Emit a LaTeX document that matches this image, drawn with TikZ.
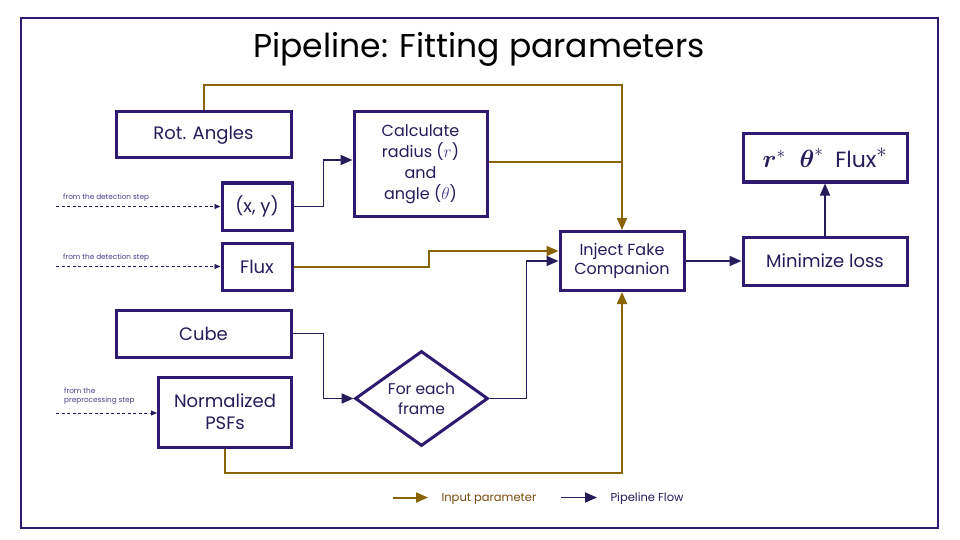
\documentclass[tikz,border=0pt]{standalone}
\usepackage{amsmath}
\usepackage{fontspec}
\setmainfont{Poppins}
\usetikzlibrary{arrows.meta, positioning, shapes.geometric}
\definecolor{framepurple}{HTML}{2E1A6E}
\definecolor{inputgold}{HTML}{8A6508}
\definecolor{flownavy}{HTML}{251C5A}
\definecolor{inputtext}{HTML}{7A4A0E}
\definecolor{notepurple}{HTML}{4A3C8C}

\tikzset{
  stepbox/.style={draw=framepurple, line width=3pt, fill=white, text=flownavy, align=center, inner sep=0pt},
  inarrow/.style={draw=inputgold, line width=2pt, -{Triangle[length=12pt,width=10pt]}},
  flowarrow/.style={draw=flownavy, line width=1.8pt, -{Triangle[length=12pt,width=10pt]}},
  notearrow/.style={draw=flownavy, line width=0.9pt, dash pattern=on 3pt off 2.5pt, -{Triangle[length=6pt,width=5pt]}},
  fromnote/.style={text=notepurple, font=\fontsize{7.3}{9}\selectfont, align=left, inner sep=0pt}
}

\begin{document}
\begin{tikzpicture}[x=1pt, y=-1pt, >=Triangle]
  \useasboundingbox (0,0) rectangle (960,540);
  \draw[framepurple, line width=2.5pt] (21,18) rectangle (938,528);
  \node[text=black, font=\fontsize{33}{36}\selectfont] (title) at (479,49) {Pipeline: Fitting parameters};

  % boxes
  \node[stepbox, minimum width=175pt, minimum height=46pt, font=\fontsize{18}{20}\selectfont] (rot) at (203.5,135) {Rot. Angles};
  \node[stepbox, minimum width=133pt, minimum height=104pt, font=\fontsize{16}{21}\selectfont] (calc) at (420.5,164) {Calculate\\radius ({\color{notepurple}$r$})\\and\\angle ({\color{notepurple}$\theta$})};
  \node[stepbox, minimum width=70pt, minimum height=47pt, font=\fontsize{18}{20}\selectfont] (xy) at (257,206.5) {(x, y)};
  \node[stepbox, minimum width=70pt, minimum height=47pt, font=\fontsize{18}{20}\selectfont] (flux) at (257,266.5) {Flux};
  \node[stepbox, minimum width=124pt, minimum height=59pt, font=\fontsize{16}{19}\selectfont] (inject) at (622,261) {Inject Fake\\Companion};
  \node[stepbox, minimum width=164pt, minimum height=48pt, font=\fontsize{22}{24}\selectfont] (minloss) at (825,261) {\fontsize{18}{20}\selectfont Minimize loss};
  \node[stepbox, minimum width=164pt, minimum height=48pt, font=\fontsize{22}{24}\selectfont] (result) at (825,158) {{\fontsize{26}{28}\selectfont$\boldsymbol{r}^*$\ \ $\boldsymbol{\theta}^*$}\ \ Flux$^{\raise2pt\hbox{$*$}}$};
  \node[stepbox, minimum width=175pt, minimum height=47pt, font=\fontsize{18}{20}\selectfont] (cube) at (203.5,333.5) {Cube};
  \node[stepbox, minimum width=133pt, minimum height=70pt, font=\fontsize{18}{22}\selectfont] (psf) at (225,412) {Normalized\\PSFs};
  \node[stepbox, diamond, aspect=1.4, minimum width=133pt, minimum height=95pt, font=\fontsize{15.5}{20}\selectfont] (frame) at (421.5,398.5) {For each\\frame};

  % input parameters
  \draw[inarrow] (rot.north) -- ++(0,-25) -| (inject.north);
  \draw[draw=inputgold, line width=2pt] ([yshift=2pt]calc.east) -- ([yshift=2pt]calc.east -| inject.north);
  \draw[inarrow] (flux.east) -- ++(135,0) |- ([yshift=10pt]inject.west);
  \draw[inarrow] (psf.south) -- ++(0,24) -| (inject.south);

  % pipeline flow
  \draw[flowarrow] (xy.east) -- ++(30,0) |- ([yshift=4pt]calc.west);
  \draw[flowarrow] (cube.east) -- ++(31,0) |- (frame.west);
  \draw[flowarrow] (frame.east) -- ++(37,0) |- (inject.west);
  \draw[flowarrow] (inject.east) -- (minloss.west);
  \draw[flowarrow] (minloss.north) -- (result.south);

  % outside steps
  \coordinate (xysrc) at (56,206.5);
  \coordinate (fluxsrc) at (56,266.5);
  \coordinate (psfsrc) at (56,413);
  \draw[notearrow] (xysrc) -- (xy.west);
  \draw[notearrow] (fluxsrc) -- (flux.west);
  \draw[notearrow] (psfsrc) -- (psf.west |- psfsrc);
  \node[fromnote, anchor=south west] (xynote) at (63,202) {from the detection step};
  \node[fromnote, anchor=south west] (fluxnote) at (63,262) {from the detection step};
  \node[fromnote, anchor=south west] (psfnote) at (64,405) {from the\\preprocessing step};

  % legend
  \coordinate (inleg) at (393,497.5);
  \coordinate (flowleg) at (561,497.5);
  \draw[inarrow] (inleg) -- ++(35,0) coordinate (inlegend);
  \draw[flowarrow] (flowleg) -- ++(36,0) coordinate (flowlegend);
  \node[text=inputtext, font=\fontsize{11.5}{13}\selectfont, anchor=west] (inlabel) at ([xshift=10pt,yshift=-1.5pt]inlegend) {Input parameter};
  \node[text=flownavy, font=\fontsize{11.5}{13}\selectfont, anchor=west] (flowlabel) at ([xshift=10pt,yshift=-1.5pt]flowlegend) {Pipeline Flow};
\end{tikzpicture}
\end{document}
